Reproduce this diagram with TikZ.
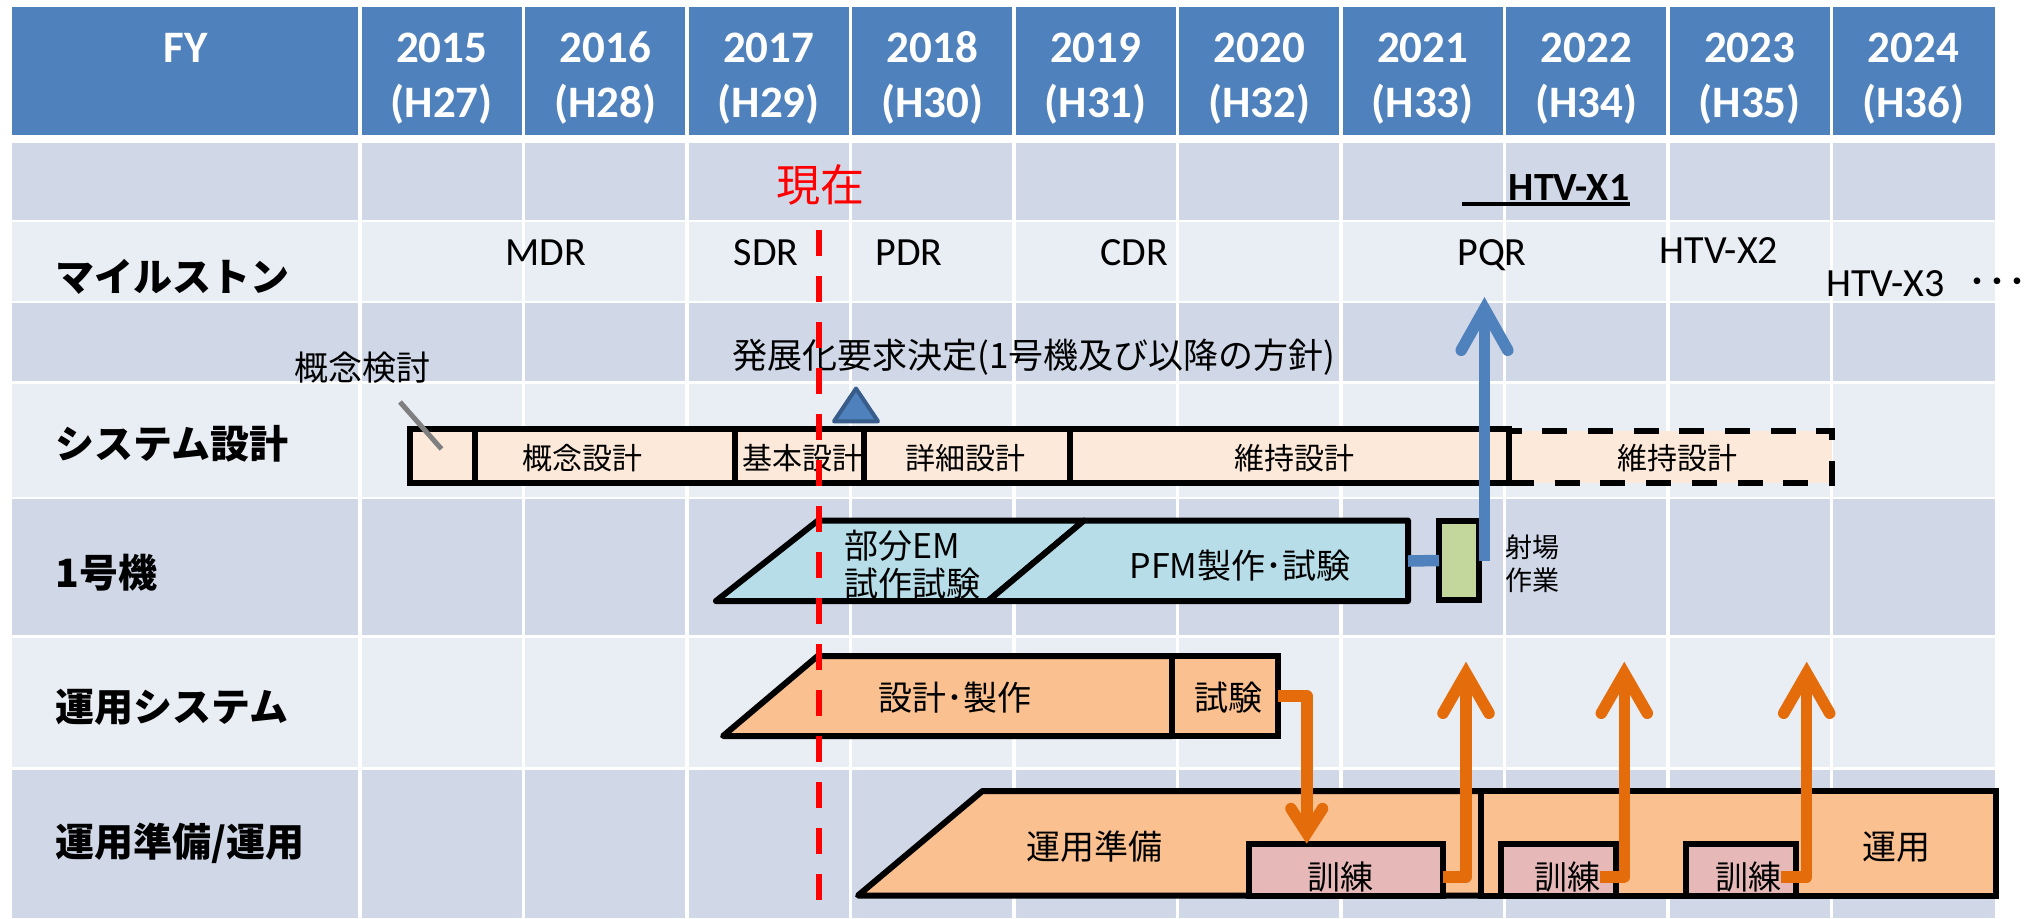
\documentclass[tikz,border=0pt]{standalone}
\usepackage{fontspec}
\setmainfont{Carlito}
\newfontfamily\jp{Noto Sans CJK JP}
\usetikzlibrary{arrows.meta}
\definecolor{hdrblue}{HTML}{4F81BD}
\definecolor{rowdark}{HTML}{D0D8E8}
\definecolor{rowlight}{HTML}{E9EDF4}
\definecolor{peach}{HTML}{FDE9D9}
\definecolor{lblue}{HTML}{B7DEE8}
\definecolor{lgreen}{HTML}{C3D69B}
\definecolor{lorange}{HTML}{FAC090}
\definecolor{lpink}{HTML}{E6B9B8}
\definecolor{dorange}{HTML}{E46C0A}
\definecolor{triedge}{HTML}{385D8A}
\definecolor{slashgray}{HTML}{7F7F7F}
\tikzset{
  hdr/.style={text=white, inner sep=0pt, font=\fontsize{22.5pt}{27pt}\selectfont\bfseries},
  rowlbl/.style={anchor=west, inner sep=0pt, font=\jp\bfseries\fontsize{19.5pt}{24pt}\selectfont},
  mstone/.style={anchor=base, inner sep=0pt, font=\fontsize{20pt}{24pt}\selectfont},
  jtext/.style={inner sep=0pt, font=\jp\fontsize{17pt}{19pt}\selectfont},
  bartext/.style={inner sep=0pt, font=\jp\fontsize{15pt}{18pt}\selectfont},
  cell/.style={draw=black, line width=3pt, inner sep=0pt, outer sep=0pt},
  shapeline/.style={draw=black, line width=3pt, line join=round},
  gridline/.style={draw=white, line width=1.75pt},
  blueconn/.style={draw=hdrblue, line width=5.75pt},
  orconn/.style={draw=dorange, line width=5.75pt, line join=round},
  bluehead/.style={-{Straight Barb[length=20.75pt,width=23.3pt,line cap=round]}},
  uphead/.style={-{Straight Barb[length=20pt,width=23pt,line cap=round]}},
  downhead/.style={-{Straight Barb[length=12.25pt,width=15.8pt,line cap=round]}},
}
\begin{document}
\begin{tikzpicture}[x=0.5pt,y=-0.5pt]
\useasboundingbox (0,0) rectangle (2031,918);
\fill[white] (0,0) rectangle (2031,918);
% header
\fill[hdrblue] (12,7) rectangle (1995,135);
% rows
\fill[rowdark]  (12,143)   rectangle (1995,219.5);
\fill[rowlight] (12,221.5) rectangle (1995,300.5);
\fill[rowdark]  (12,302.5) rectangle (1995,380.5);
\fill[rowlight] (12,383.5) rectangle (1995,496.5);
\fill[rowdark]  (12,499)   rectangle (1995,634.5);
\fill[rowlight] (12,637.5) rectangle (1995,766.5);
\fill[rowdark]  (12,769.5) rectangle (1995,918);
\foreach \x in {360,523.5,687,850.5,1014,1177.5,1341,1504.5,1668,1831.5}{
  \draw[gridline] (\x,7) -- (\x,135);
  \draw[gridline] (\x,143) -- (\x,918);
}
% header texts
\node[hdr] (fy) at (186,47.5) {FY};
\foreach \i/\yr/\h in {0/2015/H27,1/2016/H28,2/2017/H29,3/2018/H30,4/2019/H31,5/2020/H32,6/2021/H33,7/2022/H34,8/2023/H35,9/2024/H36}{
  \node[hdr] (yr\i) at (441.75+163.5*\i,47.5) {\yr};
  \node[hdr] (hs\i) at (441.75+163.5*\i,104) {(\h)};
}
% row labels
\node[rowlbl] (lms)  at (55,277) {マイルストン};
\node[rowlbl] (lsys) at (55,444) {システム設計};
\node[rowlbl] (lno1) at (55,573) {1号機};
\node[rowlbl] (lops) at (55,707) {運用システム};
\node[rowlbl] (lprep) at (55,843) {運用準備/運用};
% top labels
\node[inner sep=0pt, text=red, font=\jp\fontsize{22pt}{26pt}\selectfont] (now) at (820,184.5) {現在};
\node[anchor=base, inner sep=0pt, font=\fontsize{20pt}{24pt}\selectfont\bfseries] (hx1) at (1569,200) {HTV-X1};
\draw[line width=2pt] (1462,203.7) -- (1630,203.7);
% milestones
\node[mstone] (mdr) at (546,265) {MDR};
\node[mstone] (sdr) at (766,265) {SDR};
\node[mstone] (pdr) at (909,265) {PDR};
\node[mstone] (cdr) at (1134,265) {CDR};
\node[mstone] (pqr) at (1492,265) {PQR};
\node[mstone] (hx2) at (1719,263.5) {HTV-X2};
\node[mstone, anchor=base west] (hx3) at (1826,296.5) {HTV-X3};
\node[anchor=base west, inner sep=0pt, font=\jp\fontsize{20pt}{24pt}\selectfont] (dots) at (1967,296.5) {･･･};
% decision text and marker
\node[anchor=west, inner sep=0pt, font=\jp\fontsize{17.5pt}{20pt}\selectfont] (dec) at (732,357) {発展化要求決定(1号機及び以降の方針)};
\node[inner sep=0pt, font=\jp\fontsize{17pt}{20pt}\selectfont] (gnk) at (362,368) {概念検討};
\draw[fill=hdrblue, draw=triedge, line width=2pt, line join=round] (856,388.5) -- (878,421.3) -- (834,421.3) -- cycle;
% system design bar
\node[cell, fill=peach, dash pattern=on 12.5pt off 10.35pt, minimum width=161.5pt, minimum height=26pt] (sd5) at (1670.5,457) {};
\node[cell, fill=peach, minimum width=32.75pt, minimum height=27pt] (sd0) at (442.25,456) {};
\node[cell, fill=peach, minimum width=130pt, minimum height=27pt] (sd1) at (605,456) {};
\node[cell, fill=peach, minimum width=64.25pt, minimum height=27pt] (sd2) at (799.25,456) {};
\node[cell, fill=peach, minimum width=103pt, minimum height=27pt] (sd3) at (966.5,456) {};
\node[cell, fill=peach, minimum width=219.75pt, minimum height=27pt] (sd4) at (1289.25,456) {};
\node[bartext] (sd1t) at (582,458) {概念設計};
\node[bartext] (sd2t) at (802,458) {基本設計};
\node[bartext] (sd3t) at (965,458) {詳細設計};
\node[bartext] (sd4t) at (1294,458) {維持設計};
\node[bartext] (sd5t) at (1677,458) {維持設計};
\coordinate (gs1) at (400,402);
\coordinate (gs2) at (441.5,449);
\draw[slashgray, line width=2.5pt] (gs1) -- (gs2);
% unit 1 row
\path[shapeline, fill=lblue] (716,601) -- (818,520.5) -- (1084,520.5) -- (988,601) -- cycle;
\path[shapeline, fill=lblue] (988,601) -- (1084,520.5) -- (1408,520.5) -- (1408,601) -- cycle;
\node[anchor=west, align=left, inner sep=0pt, font=\jp\fontsize{17pt}{19pt}\selectfont] (emt) at (844,565) {部分EM\\試作試験};
\node[jtext] (pfmt) at (1240,566) {PFM製作･試験};
\coordinate (pfmE) at (1408,561);
\node[cell, fill=lgreen, minimum width=20pt, minimum height=39.5pt] (gr) at (1459,560.5) {};
\node[anchor=west, align=left, inner sep=0pt, font=\jp\fontsize{13.5pt}{16.5pt}\selectfont] (shaj) at (1505,563.5) {射場\\作業};
\draw[blueconn] (pfmE) -- (gr.west);
\coordinate (pqrT) at (1484.5,297);
\draw[blueconn, bluehead] ([xshift=2.75pt]gr.east) -- (pqrT);
% ops system row
\path[shapeline, fill=lorange] (723,736) -- (817.7,656) -- (1172,656) -- (1172,736) -- cycle;
\node[cell, fill=lorange, minimum width=53pt, minimum height=40pt] (shk) at (1225,696) {};
\node[jtext] (sst) at (955,698) {設計･製作};
\node[jtext] (shkt) at (1228,698) {試験};
% ops prep row
\path[shapeline, fill=lorange] (858,895.5) -- (982.4,791) -- (1481,791) -- (1481,895.5) -- cycle;
\node[cell, fill=lorange, minimum width=257.5pt, minimum height=52.25pt] (unyo) at (1738.5,843.25) {};
\node[jtext] (prept) at (1094,847) {運用準備};
\node[jtext] (unyot) at (1896,847) {運用};
\node[cell, fill=lpink, minimum width=96.75pt, minimum height=25.9pt] (b1) at (1345.75,869.6) {};
\node[cell, fill=lpink, minimum width=57.5pt, minimum height=25.9pt] (b2) at (1558.5,869.6) {};
\node[cell, fill=lpink, minimum width=55pt, minimum height=25.9pt] (b3) at (1741,869.6) {};
\node[inner sep=0pt, font=\jp\fontsize{16.5pt}{19pt}\selectfont] (t1) at (1340,877) {訓練};
\node[inner sep=0pt, font=\jp\fontsize{16.5pt}{19pt}\selectfont] (t2) at (1567,877) {訓練};
\node[inner sep=0pt, font=\jp\fontsize{16.5pt}{19pt}\selectfont] (t3) at (1748.5,877) {訓練};
% orange connectors
\draw[orconn, downhead] (shk.east) -| ([xshift=-19.5pt]b1.north);
\coordinate (u1) at (1466,661.7);
\coordinate (u2) at (1624.3,661.7);
\coordinate (u3) at (1806.7,661.7);
\draw[orconn, uphead] (b1.east |- t1.center) -| (u1);
\draw[orconn, uphead] ([xshift=-8pt]b2.east |- t2.center) -| (u2);
\draw[orconn, uphead] ([xshift=-7.5pt]b3.east |- t3.center) -| (u3);
% current-time line
\coordinate (nowTop) at (819,230);
\coordinate (nowBot) at (819,918);
\draw[red, line width=3pt, dash pattern=on 13pt off 10pt] (nowTop) -- (nowBot);
\end{tikzpicture}
\end{document}
